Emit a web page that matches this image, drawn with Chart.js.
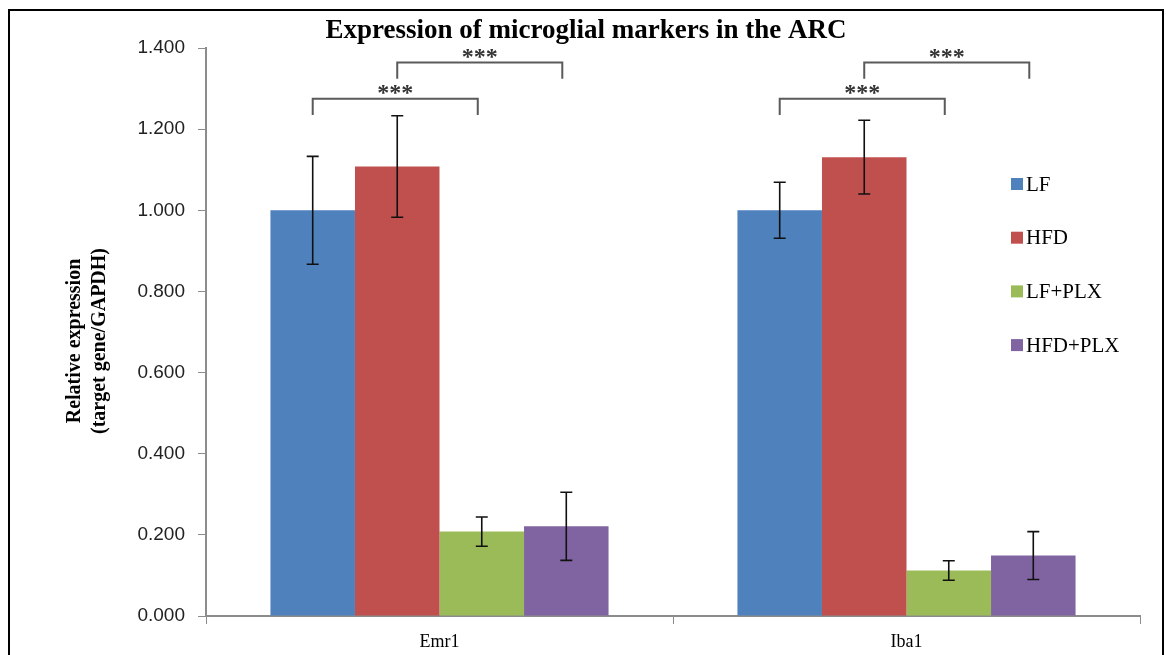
<!DOCTYPE html>
<html>
  <head>
    <title>Microglial markers</title>
    <script src="https://cdn.jsdelivr.net/npm/chart.js"></script>
    <style>
      body { margin: 0; background: #fff; }
      #wrap { width: 1166px; height: 655px; position: relative; }
    </style>
  </head>
  <body>
    <div id="wrap"><canvas id="chart"></canvas></div>

    <script>
      // values
      const markers = ["Emr1", "Iba1"];
      const groups = ["LF", "HFD", "LF+PLX", "HFD+PLX"];
      const lf = [1.0, 1.0];
      const hfd = [1.108, 1.131];
      const lfPlx = [0.208, 0.112];
      const hfdPlx = [0.221, 0.149];
      const lfErr = [0.133, 0.069];
      const hfdErr = [0.125, 0.091];
      const lfPlxErr = [0.036, 0.024];
      const hfdPlxErr = [0.084, 0.059];
      const yTicks = [0, 0.2, 0.4, 0.6, 0.8, 1.0, 1.2, 1.4];

      // significance brackets: from group -> to group, at level
      const bracketFrom = [0, 1];
      const bracketTo = [2, 3];
      const bracketLevel = [1.275, 1.364];
      const bracketLabel = "***";

      const colors = ["#4F81BD", "#C0504D", "#9BBB59", "#8064A2"];
      const seriesValues = [lf, hfd, lfPlx, hfdPlx];
      const seriesErrors = [lfErr, hfdErr, lfPlxErr, hfdPlxErr];

      const extras = {
        id: "extras",
        afterDatasetsDraw(chart) {
          const ctx = chart.ctx;
          const y = chart.scales.y;
          ctx.save();

          // error bars
          ctx.strokeStyle = "#111";
          ctx.lineWidth = 1.6;
          seriesErrors.forEach((errs, i) => {
            const meta = chart.getDatasetMeta(i);
            meta.data.forEach((bar, j) => {
              const v = seriesValues[i][j];
              const top = y.getPixelForValue(v + errs[j]);
              const bot = y.getPixelForValue(v - errs[j]);
              ctx.beginPath();
              ctx.moveTo(bar.x, top);
              ctx.lineTo(bar.x, bot);
              ctx.moveTo(bar.x - 6, top);
              ctx.lineTo(bar.x + 6, top);
              ctx.moveTo(bar.x - 6, bot);
              ctx.lineTo(bar.x + 6, bot);
              ctx.stroke();
            });
          });

          // brackets
          ctx.strokeStyle = "#5a5a5a";
          ctx.lineWidth = 2;
          ctx.fillStyle = "#333";
          ctx.font = "bold 24px 'Liberation Serif'";
          ctx.textAlign = "center";
          ctx.textBaseline = "alphabetic";
          markers.forEach((m, j) => {
            bracketFrom.forEach((f, k) => {
              const x1 = chart.getDatasetMeta(f).data[j].x;
              const x2 = chart.getDatasetMeta(bracketTo[k]).data[j].x - 4;
              const yl = y.getPixelForValue(bracketLevel[k]);
              const ye = y.getPixelForValue(bracketLevel[k] - 0.04);
              ctx.beginPath();
              ctx.moveTo(x1, ye);
              ctx.lineTo(x1, yl);
              ctx.lineTo(x2, yl);
              ctx.lineTo(x2, ye);
              ctx.stroke();
              ctx.fillText(bracketLabel, (x1 + x2) / 2, yl + 1);
            });
          });

          // title
          ctx.fillStyle = "#000";
          ctx.font = "bold 27px 'Liberation Serif'";
          ctx.textBaseline = "middle";
          ctx.fillText("Expression of microglial markers in the ARC", 586, 31);

          // y axis title
          ctx.save();
          ctx.translate(76, 341);
          ctx.rotate(-Math.PI / 2);
          ctx.font = "bold 20px 'Liberation Serif'";
          ctx.fillText("Relative expression", 0, -1);
          ctx.fillText("(target gene/GAPDH)", 0, 24);
          ctx.restore();

          // legend
          ctx.font = "21px 'Liberation Serif'";
          ctx.textAlign = "left";
          chart.data.datasets.forEach((ds, i) => {
            const cy = 184 + i * 53.7;
            ctx.fillStyle = ds.backgroundColor;
            ctx.fillRect(1011, cy - 6, 12, 12);
            ctx.fillStyle = "#000";
            ctx.fillText(ds.label, 1026, cy + 1);
          });

          // frame
          ctx.strokeStyle = "#000";
          ctx.lineWidth = 2;
          ctx.strokeRect(9, 10, 1154, 700);
          ctx.restore();
        },
      };

      new Chart(document.getElementById("chart"), {
        type: "bar",
        data: {
          labels: markers,
          datasets: groups.map((g, i) => ({
            label: g,
            data: seriesValues[i],
            backgroundColor: colors[i],
            borderWidth: 0,
            barPercentage: 1,
            categoryPercentage: 0.724,
          })),
        },
        options: {
          responsive: true,
          maintainAspectRatio: false,
          animation: false,
          layout: { padding: { top: 48, right: 26, left: 0, bottom: 0 } },
          plugins: {
            legend: { display: false },
            tooltip: { enabled: false },
          },
          scales: {
            x: {
              grid: {
                display: true,
                drawOnChartArea: false,
                drawTicks: true,
                tickLength: 8,
                color: "#8c8c8c",
                offset: true,
              },
              border: { color: "#8c8c8c", width: 2 },
              ticks: {
                color: "#000",
                padding: 7,
                font: { family: "'Liberation Serif'", size: 18 },
              },
              afterFit(scale) { scale.height = 39; },
            },
            y: {
              min: 0,
              max: 1.4,
              afterBuildTicks(scale) {
                scale.ticks = yTicks.map((v) => ({ value: v }));
              },
              grid: {
                display: true,
                drawOnChartArea: false,
                drawTicks: true,
                tickLength: 8,
                color: "#8c8c8c",
              },
              border: { color: "#8c8c8c", width: 2 },
              ticks: {
                color: "#222",
                padding: 13,
                font: { family: "'Liberation Sans'", size: 19 },
                callback: (v) => Number(v).toFixed(3),
              },
              afterFit(scale) { scale.width = 206; },
            },
          },
        },
        plugins: [extras],
      });
    </script>
  </body>
</html>
